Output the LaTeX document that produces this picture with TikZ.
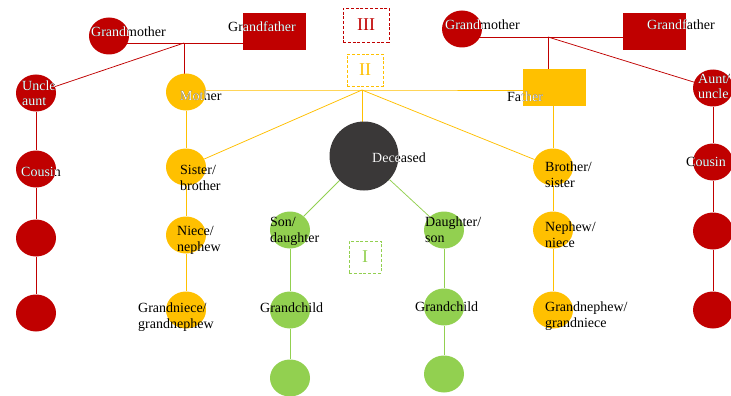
\documentclass[tikz,border=0pt]{standalone}
\usepackage{fontspec}
\setmainfont{Liberation Serif}
\usetikzlibrary{shapes.geometric,backgrounds}
\definecolor{kred}{HTML}{C00000}
\definecolor{kyel}{HTML}{FFC000}
\definecolor{kgrn}{HTML}{92D050}
\definecolor{kdark}{HTML}{3A3838}
\tikzset{
  person/.style={ellipse, minimum width=40pt, minimum height=37pt, inner sep=0pt},
  male/.style={rectangle, minimum width=63pt, minimum height=37pt, inner sep=0pt},
  lbl/.style={anchor=base west, inner sep=0pt, align=left, font=\fontsize{14}{15.8}\selectfont},
  link/.style={line width=0.75pt},
  genbox/.style={draw, dash pattern=on 3pt off 1.8pt, line width=0.9pt, inner sep=0pt,
    font=\fontsize{18}{18}\selectfont},
}
% label printed black, and white where it lies over its own shape
% (for two-line labels the position is the baseline of the last line)
\newcommand\duotone[4]{%
  \node[lbl] (#1) at #2 {#4};
  \begin{scope}\clip #3;\node[lbl,text=white] (#1w) at #2 {#4};\end{scope}}
\begin{document}
\begin{tikzpicture}[x=1pt,y=-1pt]
\clip (0,0) rectangle (731,396);

% paternal/maternal grandparents and their side branches (red)
\node[person, fill=kred] (gmL) at (109,36) {};
\node[male, fill=kred] (gfL) at (274.5,31.5) {};
\node[person, fill=kred] (gmR) at (462,29) {};
\node[male, fill=kred] (gfR) at (654.5,31.5) {};
\node[person, fill=kred] (unc) at (36,93) {};
\node[person, fill=kred] (cosL) at (36,169) {};
\node[person, fill=kred] (rL1) at (36,238) {};
\node[person, fill=kred] (rL2) at (36,313) {};
\node[person, fill=kred] (aun) at (713,88) {};
\node[person, fill=kred] (cosR) at (713,162) {};
\node[person, fill=kred] (rR1) at (713,231) {};
\node[person, fill=kred] (rR2) at (713,310) {};

% parents and siblings (yellow)
\node[person, fill=kyel] (mo) at (186,92) {};
\node[male, fill=kyel] (fa) at (554.5,87.5) {};
\node[person, fill=kyel] (sis) at (186,167) {};
\node[person, fill=kyel] (nie) at (186,235) {};
\node[person, fill=kyel] (gni) at (186,310) {};
\node[person, fill=kyel] (bro) at (553,167) {};
\node[person, fill=kyel] (nep) at (553,230) {};
\node[person, fill=kyel] (gne) at (553,310) {};

% the deceased and descendants (green)
\node[circle, minimum size=69pt, inner sep=0pt, fill=kdark] (dec) at (364,156) {};
\node[person, fill=kgrn] (son) at (290,230) {};
\node[person, fill=kgrn] (gcL) at (290,310) {};
\node[person, fill=kgrn] (ggL) at (290,378) {};
\node[person, fill=kgrn] (dau) at (444,230) {};
\node[person, fill=kgrn] (gcR) at (444,307) {};
\node[person, fill=kgrn] (ggR) at (444,374) {};

% junctions
\coordinate (J1) at (184,43);
\coordinate (J2) at (548,37);
\coordinate (J3) at (362,90);

\begin{pgfonlayer}{background}
\fill[white] (0,0) rectangle (731,396);
\begin{scope}[link, draw=kred]
  \draw (J1 -| gmL) -- (J1 -| gfL);
  \draw (J1) -- (J1 |- mo);
  \draw (J1) -- (unc);
  \draw (unc) -- (cosL) -- (rL1) -- (rL2);
  \draw (J2 -| gmR) -- (J2 -| gfR);
  \draw (J2) -- (J2 |- fa);
  \draw (J2) -- (aun);
  \draw (aun) -- (cosR) -- (rR1) -- (rR2);
\end{scope}
\begin{scope}[link, draw=kyel]
  \draw (J3 -| mo) -- (J3) -- (J3 -| fa);
  \draw (J3) -- (sis);
  \draw (J3) -- (bro);
  \draw (J3) -- (J3 |- dec);
  \draw (mo) -- (sis) -- (nie) -- (gni);
  \draw (bro |- fa) -- (bro) -- (nep) -- (gne);
\end{scope}
\begin{scope}[link, draw=kgrn]
  \draw (dec) -- (son);
  \draw (dec) -- (dau);
  \draw (son) -- (gcL) -- (ggL);
  \draw (dau) -- (gcR) -- (ggR);
\end{scope}
\end{pgfonlayer}

% generation markers
\node[genbox, draw=kred, text=kred, minimum width=46pt, minimum height=34pt] (g3) at (366,25) {III};
\node[genbox, draw=kyel, text=kyel, minimum width=36pt, minimum height=32pt] (g2) at (365,70) {II};
\node[genbox, draw=kgrn, text=kgrn, minimum width=32pt, minimum height=32pt] (g1) at (365,257) {I};

% labels
\duotone{tgmL}{(91,37)}{(gmL.center) ellipse [x radius=20pt, y radius=18.5pt]}{Grandmother}
\duotone{tgfL}{(228,32)}{(gfL.south west) rectangle (gfL.north east)}{Grandfather}
\duotone{tunc}{(22,106)}{(unc.center) ellipse [x radius=20pt, y radius=18.5pt]}{Uncle\\aunt}
\duotone{tmo}{(180,100.7)}{(mo.center) ellipse [x radius=20pt, y radius=18.5pt]}{Mother}
\duotone{tcosL}{(21,176)}{(cosL.center) ellipse [x radius=20pt, y radius=18.5pt]}{Cousin}
\duotone{tdec}{(372,162.7)}{(dec.center) circle [radius=34.5pt]}{Deceased}
\duotone{tgmR}{(445,30)}{(gmR.center) ellipse [x radius=20pt, y radius=18.5pt]}{Grandmother}
\duotone{tgfR}{(647,30)}{(gfR.south west) rectangle (gfR.north east)}{Grandfather}
\duotone{tfa}{(507,101.7)}{(fa.south west) rectangle (fa.north east)}{Father}
\duotone{taun}{(698,99)}{(aun.center) ellipse [x radius=20pt, y radius=18.5pt]}{Aunt/\\uncle}
\duotone{tcosR}{(686,166.7)}{(cosR.center) ellipse [x radius=20pt, y radius=18.5pt]}{Cousin}

\node[lbl] (tsis) at (180,190.7) {Sister/\\brother};
\node[lbl] (tnie) at (177,251) {Niece/\\nephew};
\node[lbl] (tgni) at (138,328) {Grandniece/\\grandnephew};
\node[lbl] (tson) at (270,242) {Son/\\daughter};
\node[lbl] (tgcL) at (260,312) {Grandchild};
\node[lbl] (tdau) at (425,242.7) {Daughter/\\son};
\node[lbl] (tgcR) at (415,311) {Grandchild};
\node[lbl] (tbro) at (545,187.7) {Brother/\\sister};
\node[lbl] (tnep) at (545,247.7) {Nephew/\\niece};
\node[lbl] (tgne) at (545,327.7) {Grandnephew/\\grandniece};
\end{tikzpicture}
\end{document}
